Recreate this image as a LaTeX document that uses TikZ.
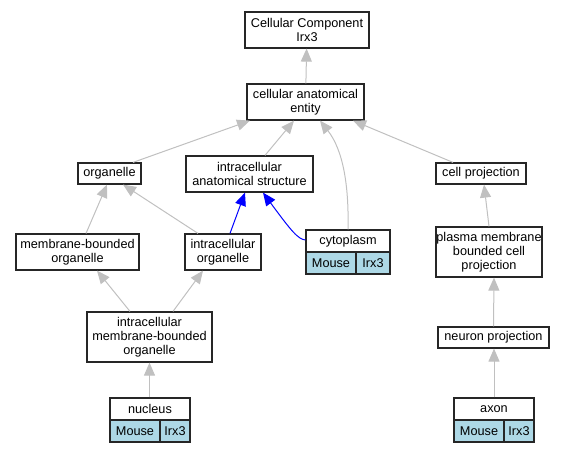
\documentclass[tikz,border=0pt]{standalone}
\usepackage{fontspec}
\setmainfont{Liberation Sans}
\usetikzlibrary{arrows.meta}
\definecolor{mouseblue}{RGB}{173,216,230}
\definecolor{edgegray}{RGB}{192,192,192}
\begin{document}
\begin{tikzpicture}[x=1pt,y=-1pt,
    term/.style={draw=black!85, line width=1.2pt, fill=white, align=center, inner sep=0pt,
      font=\fontsize{12.7}{14}\selectfont},
    tag/.style={term, fill=mouseblue, minimum height=22pt},
    isa/.style={edgegray, line width=1pt, -{Triangle[length=13pt,width=11pt]}},
    partof/.style={isa, blue}]
    \useasboundingbox (0,0) rectangle (569,453);

    % Top term
    \node[term, minimum width=124pt, minimum height=36pt] (root) at (307,30) {Cellular Component\\Irx3};
    \node[term, minimum width=117pt, minimum height=36pt] (entity) at (305.5,102) {cellular anatomical\\entity};

    % Second level
    \node[term, minimum width=63pt, minimum height=21pt] (organelle) at (109.5,173.5) {organelle};
    \node[term, minimum width=127pt, minimum height=36pt] (icstruct) at (249.5,174) {intracellular\\anatomical structure};
    \node[term, minimum width=90pt, minimum height=21pt] (cellproj) at (481,173.5) {cell projection};

    % Third level
    \node[term, minimum width=123pt, minimum height=36pt] (mborg) at (77.5,252) {membrane-bounded\\organelle};
    \node[term, minimum width=76pt, minimum height=36pt] (icorg) at (223,252) {intracellular\\organelle};
    \node[term, minimum width=106pt, minimum height=50pt] (pmproj) at (489,252) {plasma membrane\\bounded cell\\projection};

    % Cytoplasm with its annotation
    \node[term, minimum width=84pt, minimum height=22pt] (cyto) at (348,241) {cytoplasm};
    \node[tag, minimum width=50pt] (cytomouse) at (331,263) {Mouse};
    \node[tag, minimum width=34pt] (cytogene) at (373,263) {Irx3};

    % Fourth level
    \node[term, minimum width=125pt, minimum height=50pt] (icmborg) at (149.5,337) {intracellular\\membrane-bounded\\organelle};
    \node[term, minimum width=111pt, minimum height=21pt] (neuproj) at (493.5,337.5) {neuron projection};

    % Nucleus with its annotation
    \node[term, minimum width=80pt, minimum height=22pt] (nucleus) at (150,409) {nucleus};
    \node[tag, minimum width=50pt] (nucmouse) at (135,431) {Mouse};
    \node[tag, minimum width=30pt] (nucgene) at (175,431) {Irx3};

    % Axon with its annotation
    \node[term, minimum width=80pt, minimum height=22pt] (axon) at (494,409) {axon};
    \node[tag, minimum width=50pt] (axmouse) at (479,431) {Mouse};
    \node[tag, minimum width=30pt] (axgene) at (519,431) {Irx3};

    % is_a edges
    \draw[isa] (entity) -- (root);
    \draw[isa] ([xshift=23.5pt]organelle.north) -- ([xshift=-55.5pt]entity.south);
    \draw[isa] ([xshift=15.5pt]icstruct.north) -- ([xshift=-11.5pt]entity.south);
    \draw[isa] (cyto.north) .. controls (349,185) and (343,150) .. ([xshift=14.5pt]entity.south);
    \draw[isa] ([xshift=-28pt]cellproj.north) -- ([xshift=47.5pt]entity.south);
    \draw[isa] ([xshift=8.5pt]mborg.north) -- ([xshift=-2.5pt]organelle.south);
    \draw[isa] ([xshift=-25pt]icorg.north) -- ([xshift=13.5pt]organelle.south);
    \draw[isa] ([xshift=-19.5pt]icmborg.north) -- ([xshift=19.5pt]mborg.south);
    \draw[isa] ([xshift=23.5pt]icmborg.north) -- ([xshift=-20pt]icorg.south);
    \draw[isa] ([xshift=-0.5pt]nucleus.north) -- (icmborg.south);
    \draw[isa] (pmproj.north) -- ([xshift=3pt]cellproj.south);
    \draw[isa] (neuproj.north) -- ([xshift=5pt]pmproj.south);
    \draw[isa] (axon.north) -- ([xshift=0.5pt]neuproj.south);

    % part_of edges
    \draw[partof] ([xshift=7pt]icorg.north) -- ([xshift=-4.5pt]icstruct.south);
    \draw[partof] ([yshift=1pt]cyto.west) .. controls (298,239) and (292,232) .. ([xshift=13.5pt]icstruct.south);
\end{tikzpicture}
\end{document}
